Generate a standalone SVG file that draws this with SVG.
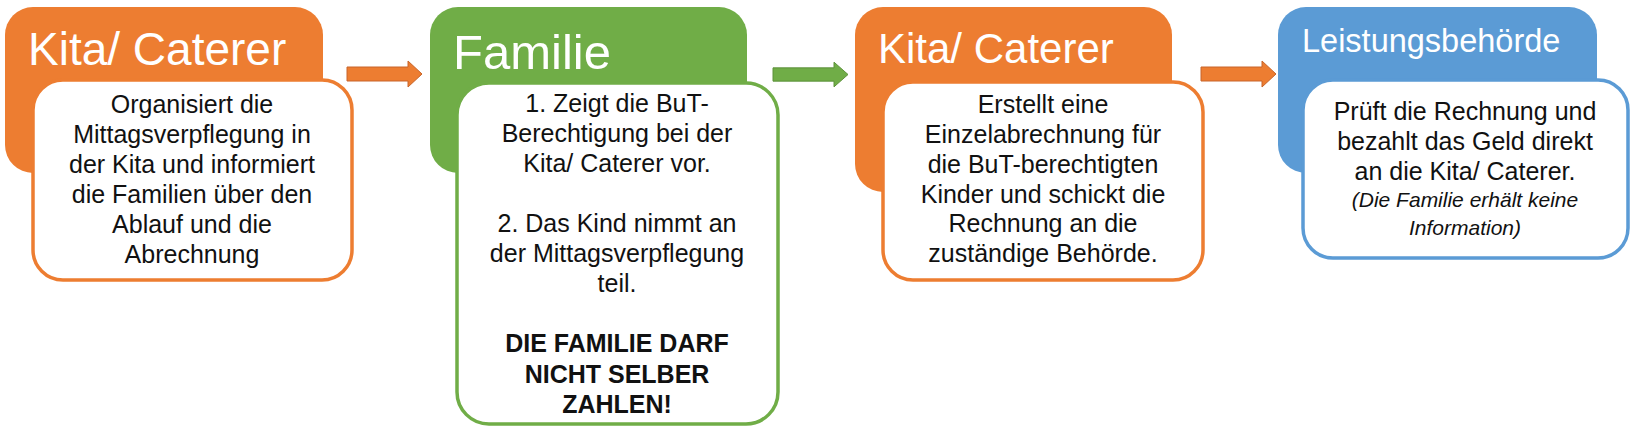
<svg xmlns="http://www.w3.org/2000/svg" width="1635" height="433" viewBox="0 0 1635 433">
<defs>
<style>
.bg{fill:#ffffff}
.orange{fill:#ED7D31}
.green{fill:#70AD47}
.blue{fill:#5B9BD5}
.front{fill:#ffffff;stroke-width:3.5}
.fo{stroke:#ED7D31}
.fg{stroke:#70AD47}
.fb{stroke:#5B9BD5}
.title{font-family:"Liberation Sans",Arial,sans-serif;fill:#ffffff}
.body{font-family:"Liberation Sans",Arial,sans-serif;font-size:25px;fill:#111111;text-anchor:middle}
.bold{font-weight:bold}
.ital{font-style:italic;font-size:21px}
.arr-o{fill:#ED7D31;stroke:#C8652A;stroke-width:1}
.arr-g{fill:#70AD47;stroke:#5A9038;stroke-width:1}
</style>
<path id="arrow" d="M0,-7 H61 V-13 L75,0 L61,13 V7 H0 Z"/>
</defs>
<rect class="bg" x="0" y="0" width="1635" height="433"/>

<g id="node1">
<rect class="orange" x="5" y="7" width="318" height="166" rx="28" ry="28"/>
<rect class="front fo" x="33" y="80" width="319" height="200" rx="30" ry="30"/>
<text class="title" x="28" y="65" font-size="46">Kita/ Caterer</text>
<text class="body" x="192" y="113">Organisiert die</text>
<text class="body" x="192" y="143">Mittagsverpflegung in</text>
<text class="body" x="192" y="173">der Kita und informiert</text>
<text class="body" x="192" y="203">die Familien über den</text>
<text class="body" x="192" y="233">Ablauf und die</text>
<text class="body" x="192" y="263">Abrechnung</text>
</g>

<g id="node2">
<rect class="green" x="430" y="7" width="317" height="166" rx="28" ry="28"/>
<rect class="front fg" x="457" y="83" width="321" height="341" rx="32" ry="32"/>
<text class="title" x="453" y="69" font-size="49">Familie</text>
<text class="body" x="617" y="112">1. Zeigt die BuT-</text>
<text class="body" x="617" y="142">Berechtigung bei der</text>
<text class="body" x="617" y="172">Kita/ Caterer vor.</text>
<text class="body" x="617" y="232">2. Das Kind nimmt an</text>
<text class="body" x="617" y="262">der Mittagsverpflegung</text>
<text class="body" x="617" y="292">teil.</text>
<text class="body bold" x="617" y="352">DIE FAMILIE DARF</text>
<text class="body bold" x="617" y="383">NICHT SELBER</text>
<text class="body bold" x="617" y="413">ZAHLEN!</text>
</g>

<g id="node3">
<rect class="orange" x="855" y="7" width="317" height="185" rx="28" ry="28"/>
<rect class="front fo" x="883" y="82" width="320" height="198" rx="30" ry="30"/>
<text class="title" x="878" y="63" font-size="42">Kita/ Caterer</text>
<text class="body" x="1043" y="113">Erstellt eine</text>
<text class="body" x="1043" y="143">Einzelabrechnung für</text>
<text class="body" x="1043" y="173">die BuT-berechtigten</text>
<text class="body" x="1043" y="203">Kinder und schickt die</text>
<text class="body" x="1043" y="232">Rechnung an die</text>
<text class="body" x="1043" y="262">zuständige Behörde.</text>
</g>

<g id="node4">
<rect class="blue" x="1278" y="7" width="319" height="166" rx="28" ry="28"/>
<rect class="front fb" x="1303" y="80" width="325" height="178" rx="30" ry="30"/>
<text class="title" x="1302" y="52" font-size="32.5">Leistungsbehörde</text>
<text class="body" x="1465" y="120">Prüft die Rechnung und</text>
<text class="body" x="1465" y="150">bezahlt das Geld direkt</text>
<text class="body" x="1465" y="180">an die Kita/ Caterer.</text>
<text class="body ital" x="1465" y="207">(Die Familie erhält keine</text>
<text class="body ital" x="1465" y="235">Information)</text>
</g>

<g id="connectors">
<use href="#arrow" class="arr-o" transform="translate(347,74)"/>
<use href="#arrow" class="arr-g" transform="translate(773,74.5) scale(1,0.95)"/>
<use href="#arrow" class="arr-o" transform="translate(1201,74)"/>
</g>
</svg>
